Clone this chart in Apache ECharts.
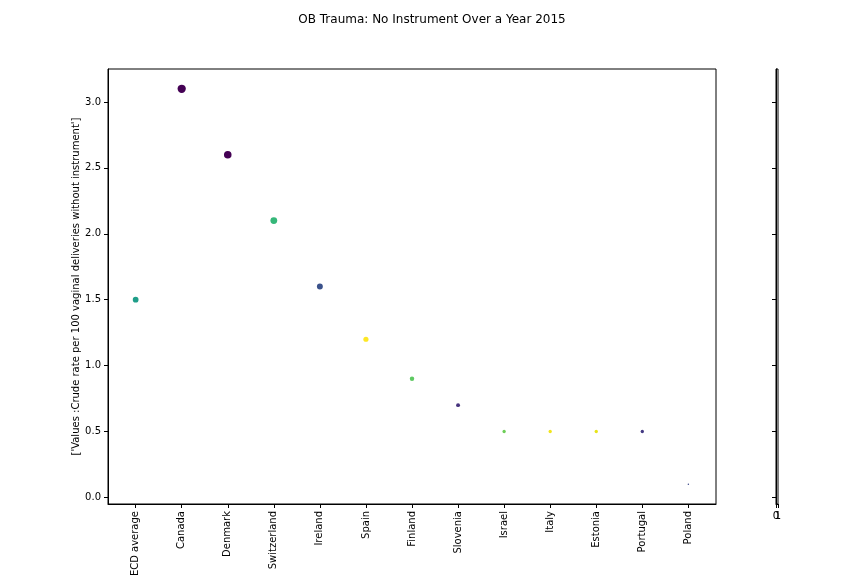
<!DOCTYPE html>
<html><head><meta charset="utf-8">
<script src="https://cdn.jsdelivr.net/npm/echarts@6/dist/echarts.min.js"></script>
<style>html,body{margin:0;padding:0;background:#fff}#c{width:864px;height:576px}</style>
</head><body><div id="c"></div>
<script>
const categories = ['OECD average','Canada','Denmark','Switzerland','Ireland','Spain','Finland','Slovenia','Israel','Italy','Estonia','Portugal','Poland'];
const values = [1.5,3.1,2.6,2.1,1.6,1.2,0.9,0.7,0.5,0.5,0.5,0.5,0.1];
const pointColors = ['#1f9e89','#440154','#440154','#35b779','#3b528b','#fde725','#5ec962','#46337e','#6ece58','#f1e51d','#e7e419','#443a83','#3e4a89'];
const yTicks = [0,0.5,1.0,1.5,2.0,2.5,3.0];
const sideLabels = ['0', '1'];
const title = 'OB Trauma: No Instrument Over a Year 2015';
const yName = "['Values :Crude rate per 100 vaginal deliveries without instrument']";

const font = 'DejaVu Sans';
const chart = echarts.init(document.getElementById('c'), null, {renderer:'canvas'});
const idx = categories.map((_, i) => i);
chart.setOption({
  animation: false,
  textStyle: {fontFamily: font},
  title: {text: title, left: 'center', top: 9, textStyle: {fontFamily: font, fontSize: 12, fontWeight: 'normal', color: '#000'}},
  grid: [
    {left: 108, top: 69, width: 608, height: 435, show: true, borderColor: '#000', borderWidth: 1, backgroundColor: 'transparent', containLabel: false, outerBoundsMode: 'none'},
    {left: 776, top: 69, width: 2, height: 435, show: true, borderColor: '#000', borderWidth: 1, backgroundColor: 'transparent', containLabel: false, outerBoundsMode: 'none'}
  ],
  xAxis: [
    {gridIndex: 0, type: 'value', min: -0.6, max: 12.6, splitLine: {show: false},
     axisLine: {onZero: false, lineStyle: {color: '#000'}},
     axisTick: {length: 4, lineStyle: {color: '#000'}, customValues: idx},
     axisLabel: {customValues: idx, rotate: 90, color: '#000', fontSize: 10, fontFamily: font, margin: 7,
       formatter: v => categories[Math.round(v)]}},
    {gridIndex: 1, type: 'category', data: sideLabels, boundaryGap: false, splitLine: {show: false},
     axisLine: {onZero: false, lineStyle: {color: '#000'}},
     axisTick: {length: 4, interval: 0, lineStyle: {color: '#000'}},
     axisLabel: {interval: 0, color: '#000', fontSize: 10, fontFamily: font, margin: 7, hideOverlap: false}}
  ],
  yAxis: [
    {gridIndex: 0, type: 'value', min: -0.05, max: 3.25, splitLine: {show: false},
     name: yName, nameLocation: 'middle', nameGap: 27, nameMoveOverlap: false, nameTextStyle: {fontFamily: font, fontSize: 10, color: '#000'},
     axisLine: {show: true, onZero: false, lineStyle: {color: '#000'}},
     axisTick: {show: true, length: 4, lineStyle: {color: '#000'}, customValues: yTicks},
     axisLabel: {customValues: yTicks, color: '#000', fontSize: 10, fontFamily: font, margin: 7, formatter: v => v.toFixed(1)}},
    {gridIndex: 1, type: 'value', min: -0.05, max: 3.25, splitLine: {show: false},
     axisLine: {show: true, onZero: false, lineStyle: {color: '#000'}},
     axisTick: {show: true, length: 4, lineStyle: {color: '#000'}, customValues: yTicks},
     axisLabel: {show: false}}
  ],
  series: [{
    type: 'scatter', xAxisIndex: 0, yAxisIndex: 0,
    data: values.map((v, i) => ({value: [i, v], itemStyle: {color: pointColors[i]}})),
    symbolSize: d => 4.7 * Math.sqrt(d[1]),
    itemStyle: {opacity: 1}
  }]
});
</script></body></html>
